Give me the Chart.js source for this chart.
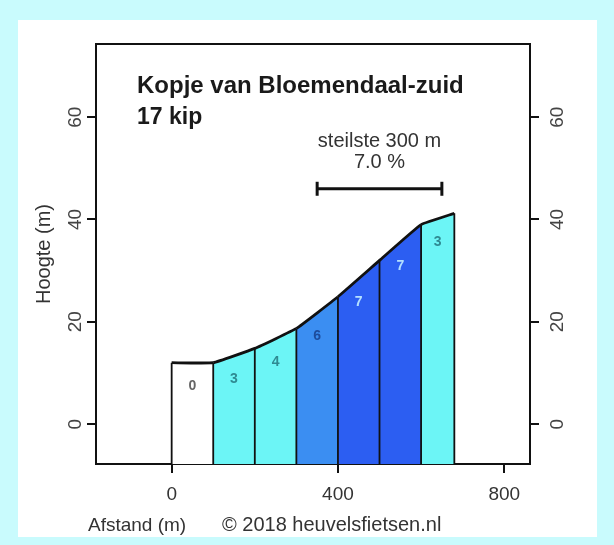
<!DOCTYPE html>
<html>
<head>
<meta charset="utf-8">
<script src="https://cdn.jsdelivr.net/npm/chart.js@4.4.1/dist/chart.umd.min.js"></script>
<style>
html, body { margin: 0; padding: 0; background: #c9fbfd; }
#wrap { position: relative; width: 614px; height: 545px; background: #c9fbfd; overflow: hidden; }
#panel { position: absolute; left: 18px; top: 20px; width: 579px; height: 517px; background: #fff; }
#profiel { position: absolute; left: 0; top: 0; }
</style>
</head>
<body>
<div id="wrap">
  <div id="panel"></div>
  <canvas id="profiel" width="614" height="545"></canvas>
</div>
<script>
// Hoogteprofiel: afstand (m) en hoogte (m) per 100 m
const afstand = [0, 100, 200, 300, 400, 500, 600, 680];
const hoogte = [12, 12, 14.8, 18.7, 24.9, 32, 39, 41.2];
const stijging = [0, 3, 4, 6, 7, 7, 3]; // % per stuk
const xTicks = [0, 400, 800];
const yTicks = [0, 20, 40, 60];

// steilste 300 m
const steilste = { van: 350, tot: 650, hoogte: 46 };

const xMin = -182, xMax = 862;
const yMin = -7.8, yMax = 74.3;

const lettertype = '"Liberation Sans", Arial, sans-serif';
const zwart = '#111';

function kleur(p) {
    if (p <= 0) return '#ffffff';
    if (p < 5) return '#6cf5f6';
    if (p < 7) return '#3b8ef2';
    return '#2c5ef2';
}

function tekstKleur(p) {
    if (p <= 0) return '#666';
    if (p < 5) return '#2f8a92';
    if (p < 7) return '#1d4c9c';
    return '#b4e0ff';
}

// verticale scheidingslijnen tussen de stukken
const scheiding = [];
afstand.forEach((x, i) => {
    scheiding.push({ x: x, y: yMin }, { x: x, y: hoogte[i] }, { x: x, y: null });
});

const teksten = {
    id: 'teksten',
    afterDraw(chart) {
        const { ctx, chartArea, scales: { x, y } } = chart;
        ctx.save();

        // stijgingspercentages in de stukken
        ctx.textAlign = 'center';
        ctx.textBaseline = 'middle';
        ctx.font = 'bold 14px ' + lettertype;
        stijging.forEach((p, i) => {
            const px = x.getPixelForValue((afstand[i] + afstand[i + 1]) / 2);
            const py = y.getPixelForValue((hoogte[i] + hoogte[i + 1]) / 2 - 4.6);
            ctx.fillStyle = tekstKleur(p);
            ctx.fillText(String(p), px, py);
        });

        // titel
        ctx.textAlign = 'left';
        ctx.textBaseline = 'alphabetic';
        ctx.fillStyle = '#1a1a1a';
        ctx.font = 'bold 24px ' + lettertype;
        ctx.fillText('Kopje van Bloemendaal-zuid', chartArea.left + 41, 93);
        ctx.font = 'bold 23px ' + lettertype;
        ctx.fillText('17 kip', chartArea.left + 41, 124);

        // steilste stuk
        const midden = x.getPixelForValue((steilste.van + steilste.tot) / 2);
        const balk = y.getPixelForValue(steilste.hoogte);
        ctx.textAlign = 'center';
        ctx.fillStyle = '#333';
        ctx.font = '20px ' + lettertype;
        ctx.fillText('steilste 300 m', midden, balk - 42);
        ctx.fillText('7.0 %', midden, balk - 21);

        // onderschrift
        ctx.textAlign = 'left';
        ctx.font = '19px ' + lettertype;
        ctx.fillText('Afstand (m)', 88, 531);
        ctx.font = '20px ' + lettertype;
        ctx.fillText('\u00a9 2018 heuvelsfietsen.nl', 222, 531);
        ctx.restore();
    }
};

const asLijn = { display: true, color: zwart, width: 2 };
const tickLijn = { drawOnChartArea: false, drawTicks: true, tickLength: 9, color: zwart, lineWidth: 2 };
const tickFont = { family: lettertype, size: 19 };

new Chart(document.getElementById('profiel'), {
    type: 'line',
    data: {
        datasets: [
            {
                label: 'profiel',
                data: afstand.map((x, i) => ({ x: x, y: hoogte[i] })),
                borderColor: zwart,
                borderWidth: 2.8,
                pointRadius: 0,
                tension: 0.1,
                fill: 'start',
                backgroundColor: '#fff',
                segment: {
                    backgroundColor: c => kleur(stijging[c.p0DataIndex])
                },
                order: 3
            },
            {
                label: 'scheiding',
                data: scheiding,
                borderColor: zwart,
                borderWidth: 1.8,
                pointRadius: 0,
                fill: false,
                spanGaps: false,
                order: 2
            },
            {
                label: 'steilste',
                data: [{ x: steilste.van, y: steilste.hoogte }, { x: steilste.tot, y: steilste.hoogte }],
                borderColor: zwart,
                borderWidth: 3,
                pointStyle: 'line',
                rotation: 90,
                pointRadius: 7,
                pointBorderWidth: 3,
                pointBorderColor: zwart,
                fill: false,
                order: 1
            }
        ]
    },
    options: {
        responsive: false,
        animation: false,
        events: [],
        layout: { padding: { top: 44, left: 0, right: 0, bottom: 0 } },
        plugins: {
            legend: { display: false },
            tooltip: { enabled: false }
        },
        scales: {
            x: {
                type: 'linear',
                position: 'bottom',
                min: xMin,
                max: xMax,
                afterBuildTicks: s => { s.ticks = xTicks.map(v => ({ value: v })); },
                grid: tickLijn,
                border: asLijn,
                ticks: { font: tickFont, color: '#333', padding: 10, maxRotation: 0 },
                afterFit: s => { s.height = 81; }
            },
            xTop: {
                type: 'linear',
                position: 'top',
                min: xMin,
                max: xMax,
                grid: { display: false, drawTicks: false },
                border: asLijn,
                ticks: { display: false },
                afterFit: s => { s.height = 0; }
            },
            y: {
                type: 'linear',
                position: 'left',
                min: yMin,
                max: yMax,
                afterBuildTicks: s => { s.ticks = yTicks.map(v => ({ value: v })); },
                grid: tickLijn,
                border: asLijn,
                ticks: { font: tickFont, color: '#444', minRotation: 90, maxRotation: 90, crossAlign: 'center', padding: 1 },
                title: {
                    display: true,
                    text: 'Hoogte (m)',
                    font: { family: lettertype, size: 20 },
                    color: '#333',
                    padding: { top: 32, bottom: 0 }
                },
                afterFit: s => { s.width = 96; }
            },
            yRechts: {
                type: 'linear',
                position: 'right',
                min: yMin,
                max: yMax,
                afterBuildTicks: s => { s.ticks = yTicks.map(v => ({ value: v })); },
                grid: tickLijn,
                border: asLijn,
                ticks: { font: tickFont, color: '#444', minRotation: 90, maxRotation: 90, crossAlign: 'center', padding: 8 },
                afterFit: s => { s.width = 84; }
            }
        }
    },
    plugins: [teksten]
});
</script>
</body>
</html>
